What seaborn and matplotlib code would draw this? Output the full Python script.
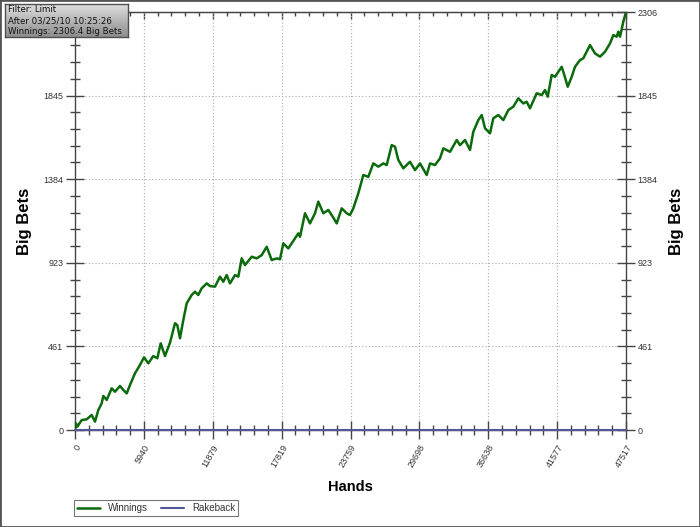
import numpy as np
import pandas as pd
import matplotlib
matplotlib.use("Agg")
import matplotlib.pyplot as plt
import seaborn as sns
from matplotlib.ticker import AutoMinorLocator
from matplotlib.patches import Rectangle
from matplotlib.colors import LinearSegmentedColormap

# ---------------- data ----------------
hands = [0, 100, 198, 578, 1009, 1440, 1725, 2009, 2303, 2441,
         2734, 3165, 3450, 3881, 4165, 4459, 4743, 5174, 5606, 5951,
         6321, 6752, 7098, 7391, 7762, 8193, 8624, 8822, 9055, 9340,
         9633, 10064, 10349, 10633, 10927, 11358, 11642, 12074, 12505, 12789,
         13083, 13367, 13798, 14083, 14376, 14661, 15239, 15670, 16101, 16532,
         16963, 17395, 17679, 17964, 18395, 18973, 19257, 19404, 19835, 20266,
         20698, 20982, 21413, 21845, 22224, 22569, 23000, 23431, 23716, 24001,
         24432, 24863, 25294, 25726, 26157, 26588, 26881, 27312, 27597, 27882,
         28313, 28890, 29322, 29753, 30331, 30616, 31047, 31478, 31762, 32340,
         32918, 33202, 33634, 34065, 34350, 34781, 35074, 35358, 35790, 36074,
         36505, 36937, 37368, 37799, 38230, 38661, 38955, 39239, 39817, 40248,
         40533, 40766, 41111, 41395, 41973, 42197, 42490, 42835, 43120, 43551,
         43836, 44414, 44845, 45276, 45707, 46138, 46423, 46716, 46854, 47001,
         47286, 47517]
winnings = [0, 35, 18, 55, 59, 83, 46, 110, 147, 188,
            166, 230, 211, 243, 221, 202, 248, 313, 359, 401,
            368, 408, 396, 478, 408, 482, 589, 579, 506, 607,
            699, 745, 763, 745, 782, 809, 794, 791, 846, 818,
            855, 809, 855, 846, 947, 910, 956, 947, 965, 1011,
            938, 947, 942, 1030, 1002, 1058, 1085, 1066, 1196, 1140,
            1196, 1260, 1196, 1214, 1177, 1140, 1223, 1196, 1186, 1223,
            1306, 1407, 1397, 1471, 1453, 1471, 1462, 1572, 1563, 1490,
            1444, 1480, 1434, 1471, 1407, 1471, 1462, 1499, 1554, 1535,
            1600, 1572, 1600, 1545, 1646, 1710, 1738, 1665, 1637, 1720,
            1738, 1710, 1765, 1784, 1830, 1802, 1811, 1775, 1858, 1848,
            1876, 1839, 1959, 1949, 2004, 1959, 1894, 1949, 2004, 2041,
            2051, 2124, 2078, 2060, 2087, 2133, 2179, 2170, 2198, 2170,
            2253, 2306.4]
rake_hands = [0, 47517]
rakeback = [0, 0]

x_max = 47517
y_max = 2306.4
x_tick_labels = ["0", "5940", "11879", "17819", "23759", "29698", "35638", "41577", "47517"]
y_tick_labels = ["0", "461", "923", "1384", "1845", "2306"]
info_lines = ["Filter: Limit", "After 03/25/10 10:25:26", "Winnings: 2306.4 Big Bets"]

win_color = "#0b6a0b"
rake_color = "#55559a"
axis_color = "#454545"
label_color = "#333333"

# ---------------- style ----------------
sns.set_style("white")
plt.rcParams["font.family"] = ["Liberation Sans", "DejaVu Sans"]

fig = plt.figure(figsize=(7, 5.27), dpi=100)
ax = fig.add_axes([75 / 700, 1 - 430 / 527, 551 / 700, 418 / 527])

df_w = pd.DataFrame({"Hands": hands, "Big Bets": winnings})
df_r = pd.DataFrame({"Hands": rake_hands, "Big Bets": rakeback})
sns.lineplot(data=df_w, x="Hands", y="Big Bets", ax=ax, color=win_color,
             linewidth=1.8, estimator=None, label="Winnings", legend=False, zorder=3)
sns.lineplot(data=df_r, x="Hands", y="Big Bets", ax=ax, color=rake_color,
             linewidth=1.5, estimator=None, label="Rakeback", legend=False,
             zorder=5, clip_on=False)

ax.set_xlim(0, x_max)
ax.set_ylim(0, y_max)
ax.set_xlabel("")
ax.set_ylabel("")

ax.set_xticks(np.linspace(0, x_max, len(x_tick_labels)))
ax.set_xticklabels(x_tick_labels, rotation=60, ha="right", va="top",
                   rotation_mode="anchor")
ax.set_yticks(np.linspace(0, y_max, len(y_tick_labels)))
ax.set_yticklabels(y_tick_labels)
ax.xaxis.set_minor_locator(AutoMinorLocator(5))
ax.yaxis.set_minor_locator(AutoMinorLocator(5))

ax.tick_params(axis="y", which="both", left=True, right=True,
               labelleft=True, labelright=True)
ax.tick_params(axis="x", which="both", bottom=True, top=False)
ax.tick_params(which="major", direction="inout", length=13, width=1,
               color=axis_color, labelcolor=label_color, labelsize=6.5)
ax.tick_params(which="minor", direction="inout", length=7, width=1,
               color=axis_color)
ax.tick_params(axis="x", pad=3)
ax.tick_params(axis="y", pad=2)

# the top-left value label is covered by the info box in the original
ax.yaxis.get_major_ticks()[-1].label1.set_visible(False)

for s in ax.spines.values():
    s.set_visible(True)
    s.set_color(axis_color)
    s.set_linewidth(1)

ax.grid(True, which="major", color="#aaaaaa", linestyle=(0, (1, 2)), linewidth=0.8)

secax = ax.secondary_xaxis("top")
secax.set_xticks(np.linspace(0, x_max, len(x_tick_labels)))
secax.set_xticklabels([])
secax.xaxis.set_minor_locator(AutoMinorLocator(5))
secax.tick_params(which="major", direction="in", length=5, width=1, color=axis_color)
secax.tick_params(which="minor", direction="in", length=3, width=1, color=axis_color)
secax.spines["top"].set_color(axis_color)

# axis labels
fig.text(25 / 700, 1 - 221 / 527, "Big Bets", rotation=90, ha="center", va="center",
         fontsize=12, fontweight="bold", color="black")
fig.text(677 / 700, 1 - 221 / 527, "Big Bets", rotation=90, ha="center", va="center",
         fontsize=12, fontweight="bold", color="black")
fig.text(350.5 / 700, 1 - 487 / 527, "Hands", ha="center", va="center",
         fontsize=10.5, fontweight="bold", color="black")

# legend
handles, labels = ax.get_legend_handles_labels()
leg = fig.legend(handles, labels, loc="lower left",
                 bbox_to_anchor=(74 / 700, 1 - 516 / 527), ncol=2, fontsize=7,
                 frameon=True, fancybox=False, edgecolor="#777777", framealpha=1,
                 borderpad=0.3, handlelength=2.4, columnspacing=1.3,
                 handletextpad=0.8, borderaxespad=0)
leg.get_frame().set_linewidth(0.8)
for t in leg.get_texts():
    t.set_color(label_color)

# info box
bax = fig.add_axes([5 / 700, 1 - 37 / 527, 123 / 700, 33 / 527])
cmap = LinearSegmentedColormap.from_list("g", ["#dedede", "#8e8e8e"])
grad = np.linspace(0, 1, 64).reshape(-1, 1)
bax.imshow(grad, aspect="auto", cmap=cmap, extent=[0, 1, 0, 1], origin="upper")
bax.set_xticks([])
bax.set_yticks([])
for s in bax.spines.values():
    s.set_visible(True)
    s.set_color("#505050")
    s.set_linewidth(1)
for i, line in enumerate(info_lines):
    bax.text(0.025, [0.83, 0.5, 0.17][i], line, transform=bax.transAxes,
             ha="left", va="center", fontsize=6.2, color="#111111",
             family=["DejaVu Sans"])

# outer border
fig.patches.append(Rectangle((0, 0), 1, 1, transform=fig.transFigure, fill=False,
                             edgecolor="#555555", linewidth=2))

fig.savefig("out.png", dpi=100)
